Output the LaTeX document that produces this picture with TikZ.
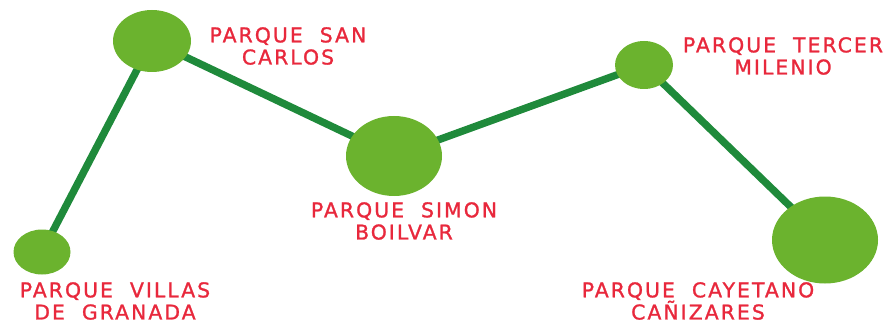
\documentclass[tikz,border=0pt]{standalone}
\usepackage{fontspec}
\newfontfamily\parkfont[LetterSpace=10,FakeBold=1.2]{DejaVu Sans}
\usetikzlibrary{shapes.geometric,positioning,backgrounds}
\definecolor{parkgreen}{HTML}{6BB32E}
\definecolor{pathgreen}{HTML}{1F8A3B}
\definecolor{labelred}{HTML}{E8283C}

\begin{document}
\begin{tikzpicture}[x=0.02cm,y=-0.02cm,
park/.style = {ellipse, fill=parkgreen, draw=none, inner sep=0pt},
parkname/.style = {text=labelred, align=center, font=\parkfont\fontsize{11.6}{12.6}\selectfont, inner sep=0pt},
line/.style = {draw=pathgreen, line width=4.2pt}]

\useasboundingbox (0,0) rectangle (888,324);

% parques
\node [park, minimum width=57*0.02cm, minimum height=45*0.02cm] (villas) at (42,252) {};
\node [park, minimum width=78*0.02cm, minimum height=62*0.02cm] (sancarlos) at (152,41) {};
\node [park, minimum width=96*0.02cm, minimum height=80*0.02cm] (simon) at (394,156) {};
\node [park, minimum width=58*0.02cm, minimum height=48*0.02cm] (tercer) at (644,65) {};
\node [park, minimum width=106*0.02cm, minimum height=87*0.02cm] (cayetano) at (825,240) {};

% nombres
\node [parkname] (villaslbl) at (115,301) {PARQUE\ \ VILLAS\\DE\ \ GRANADA};
\node [parkname] (sancarloslbl) at (288,46) {PARQUE\ \ SAN\\CARLOS};
\node [parkname] (simonlbl) at (404,221) {PARQUE\ \ SIMON\\BOILVAR};
\node [parkname] (tercerlbl) at (783,56) {PARQUE\ \ TERCER\\MILENIO};
\node [parkname] (cayetanolbl) at (698,301) {PARQUE\ \ CAYETANO\\CAÑIZARES};

% caminos
\begin{scope}[on background layer, every path/.style=line]
\path (villas.center) -- (sancarlos.center);
\path (sancarlos.center) -- (simon.center);
\path (simon.center) -- (tercer.center);
\path (tercer.center) -- (cayetano.center);
\end{scope}

\end{tikzpicture}
\end{document}
